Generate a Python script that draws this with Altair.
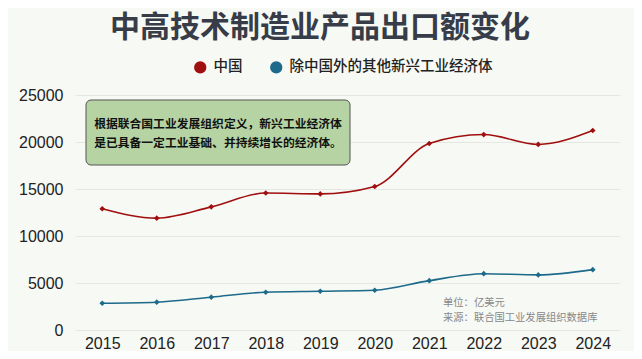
import altair as alt
import pandas as pd

years = ["2015", "2016", "2017", "2018", "2019", "2020", "2021", "2022", "2023", "2024"]
china = [12900, 11900, 13100, 14570, 14480, 15270, 19840, 20790, 19740, 21220]
others = [2850, 2960, 3490, 4020, 4120, 4230, 5250, 5990, 5860, 6420]
series_names = ["中国", "除中国外的其他新兴工业经济体"]
series_colors = ["#a00f0f", "#1d6a8a"]
title_text = "中高技术制造业产品出口额变化"
note_lines = ["根据联合国工业发展组织定义，新兴工业经济体", "是已具备一定工业基础、并持续增长的经济体。"]
source_lines = ["单位：亿美元", "来源：联合国工业发展组织数据库"]
y_ticks = [0, 5000, 10000, 15000, 20000, 25000]

FONT = "Noto Sans CJK SC"

df = pd.DataFrame({
    "year": years * 2,
    "value": china + others,
    "series": [series_names[0]] * len(years) + [series_names[1]] * len(years),
})

x_enc = alt.X("year:O", scale=alt.Scale(type="point", padding=0.5),
              axis=alt.Axis(title=None, labelAngle=0, labelFontSize=16, labelColor="#222",
                            labelFont="Liberation Sans", ticks=False, domain=False,
                            labelPadding=5, grid=False))
y_enc = alt.Y("value:Q", scale=alt.Scale(domain=[0, 25000], nice=False),
              axis=alt.Axis(title=None, values=y_ticks, format="d", labelFontSize=16,
                            labelColor="#222", labelFont="Liberation Sans", ticks=False,
                            domain=False, labelPadding=12, gridColor="#e4e7e2", gridWidth=1))
color_scale = alt.Scale(domain=series_names, range=series_colors)
color_enc = alt.Color("series:N", scale=color_scale,
                      legend=alt.Legend(title=None, orient="none", direction="horizontal",
                                        legendX=118, legendY=-35, symbolType="circle",
                                        symbolSize=150, symbolStrokeWidth=0,
                                        labelFontSize=14.5, labelFont=FONT, labelColor="#222",
                                        labelFontWeight=500, columnPadding=26, labelOffset=6,
                                        labelLimit=0))

base = alt.Chart(df).encode(x=x_enc, y=y_enc, color=color_enc)
lines = base.mark_line(interpolate="monotone", strokeWidth=1.6)
points = base.mark_point(shape="diamond", filled=True, size=32, opacity=1)

box = alt.Chart(pd.DataFrame({"k": [0]})).mark_rect(
    fill="#b6d4a3", stroke="#555", strokeWidth=1, cornerRadius=5).encode(
    x=alt.value(11), x2=alt.value(275), y=alt.value(5), y2=alt.value(70))

note_layers = []
for i, t in enumerate(note_lines):
    note_layers.append(
        alt.Chart(pd.DataFrame({"t": [t]})).mark_text(
            font=FONT, fontSize=11.8, fontWeight="bold", color="#111",
            align="center", baseline="middle").encode(
            text="t:N", x=alt.value(143), y=alt.value(29 + 19 * i)))

src_layers = []
for i, t in enumerate(source_lines):
    src_layers.append(
        alt.Chart(pd.DataFrame({"t": [t]})).mark_text(
            font=FONT, fontSize=10.3, color="#888", align="left", baseline="middle").encode(
            text="t:N", x=alt.value(368), y=alt.value(208 + 15 * i)))

title = alt.Chart(pd.DataFrame({"t": [title_text]})).mark_text(
    font=FONT, fontSize=30, fontWeight="bold", color="#373d48",
    align="center", baseline="middle").encode(
    text="t:N", x=alt.value(245), y=alt.value(-67))

chart = alt.layer(lines, points, box, *note_layers, *src_layers, title).properties(
    width=545, height=235,
    autosize=alt.AutoSizeParams(type="none"),
    padding={"left": 67, "top": 87, "right": 14, "bottom": 21},
    background="#f7f9f5",
).configure_view(stroke=None)

chart.save("out.html", embed_options={"renderer": "svg", "actions": False})
